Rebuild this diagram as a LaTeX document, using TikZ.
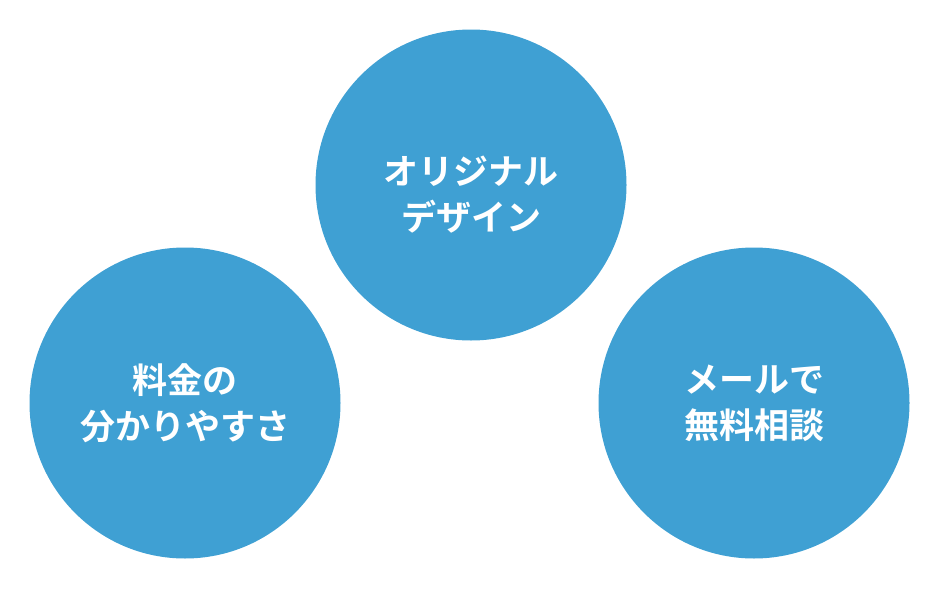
\documentclass[tikz,border=0pt]{standalone}
\usepackage{fontspec}
\newfontfamily\jp{Noto Sans CJK JP}[BoldFont={Noto Sans CJK JP Bold}]
\usepackage{tikz}
\definecolor{circblue}{HTML}{3FA0D3}

\begin{document}
\begin{tikzpicture}[x=1pt, y=-1pt,
  point/.style={circle, fill=circblue, minimum size=311pt, inner sep=0pt},
  every node/.style={font=\jp\bfseries\fontsize{35}{46}\selectfont, text=white, align=center}]
\useasboundingbox (0,0) rectangle (940,589);
\node[point] (orig) at (471,185) {};
\node[point] (fee) at (185,403) {};
\node[point] (mail) at (754,403) {};
\node (origtxt) at (orig.center) [yshift=-10pt] {オリジナル\\デザイン};
\node (feetxt) at (fee.center) {料金の\\分かりやすさ};
\node (mailtxt) at (mail.center) {メールで\\無料相談};
\end{tikzpicture}
\end{document}
